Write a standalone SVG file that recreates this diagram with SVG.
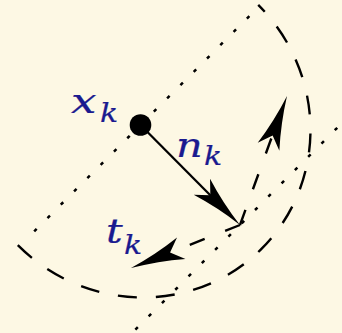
<svg xmlns="http://www.w3.org/2000/svg" xmlns:xlink="http://www.w3.org/1999/xlink" width="342" height="333" viewBox="0 0 342 333">
  <style>
    .dotted { fill: none; stroke: #000; stroke-width: 2.5; stroke-dasharray: 3.5 15.3; stroke-linecap: butt; }
    .arc { fill: none; stroke: #000; stroke-width: 2.4; stroke-dasharray: 19 19; }
    .dashed { fill: none; stroke: #000; stroke-width: 2.4; stroke-dasharray: 16 22; }
    .solid { fill: none; stroke: #000; stroke-width: 2.3; }
    .lbl { font-family: "DejaVu Serif", "Liberation Serif", serif; font-style: italic; fill: #1a1a8f; stroke: #1a1a8f; stroke-width: 0.25; }
    .main { font-size: 34px; }
    .sub { font-size: 26px; }
  </style>
  <defs>
    <path id="ah" d="M0,0 Q-28,-3.5 -54,-11.5 L-42,0 L-54,11.5 Q-28,3.5 0,0 Z" fill="#000"/>
  </defs>
  <rect x="0" y="0" width="342" height="333" fill="#fdf8e4"/>

  <g id="guides">
    <path class="dotted" d="M249.36,16.14 L33.94,231.56"/>
    <path class="dotted" d="M337.24,127.76 L128,337"/>
    <path class="arc" d="M17.8,245.2 A170,175 -45 0 0 261.7,248.7 A170,175 -45 0 0 258.2,4.8"/>
  </g>

  <g id="connectors">
    <g id="edge-nk">
      <path class="solid" d="M140.5,125 L215,200"/>
      <use xlink:href="#ah" transform="translate(240,225) rotate(45.1)"/>
    </g>
    <g id="edge-tk">
      <path class="dashed" d="M240,225 L160,256.6"/>
      <use xlink:href="#ah" transform="translate(131,268) rotate(158.5)"/>
    </g>
    <g id="edge-tk2">
      <path class="dashed" d="M240,225 L274,131"/>
      <use xlink:href="#ah" transform="translate(287,96) rotate(-70)"/>
    </g>
  </g>

  <g id="node-xk">
    <circle cx="140.5" cy="125" r="10.8" fill="#000"/>
    <text class="lbl main" transform="translate(71,113) scale(1.33,1)">x</text>
    <text class="lbl sub" transform="translate(100,122) scale(1.15,1)">k</text>
  </g>
  <g id="label-nk">
    <text class="lbl main" transform="translate(176,157) scale(1.22,1)">n</text>
    <text class="lbl sub" transform="translate(204,165) scale(1.15,1)">k</text>
  </g>
  <g id="label-tk">
    <text class="lbl main" transform="translate(106,243) scale(1.22,1)">t</text>
    <text class="lbl sub" transform="translate(124,254) scale(1.15,1)">k</text>
  </g>
</svg>
